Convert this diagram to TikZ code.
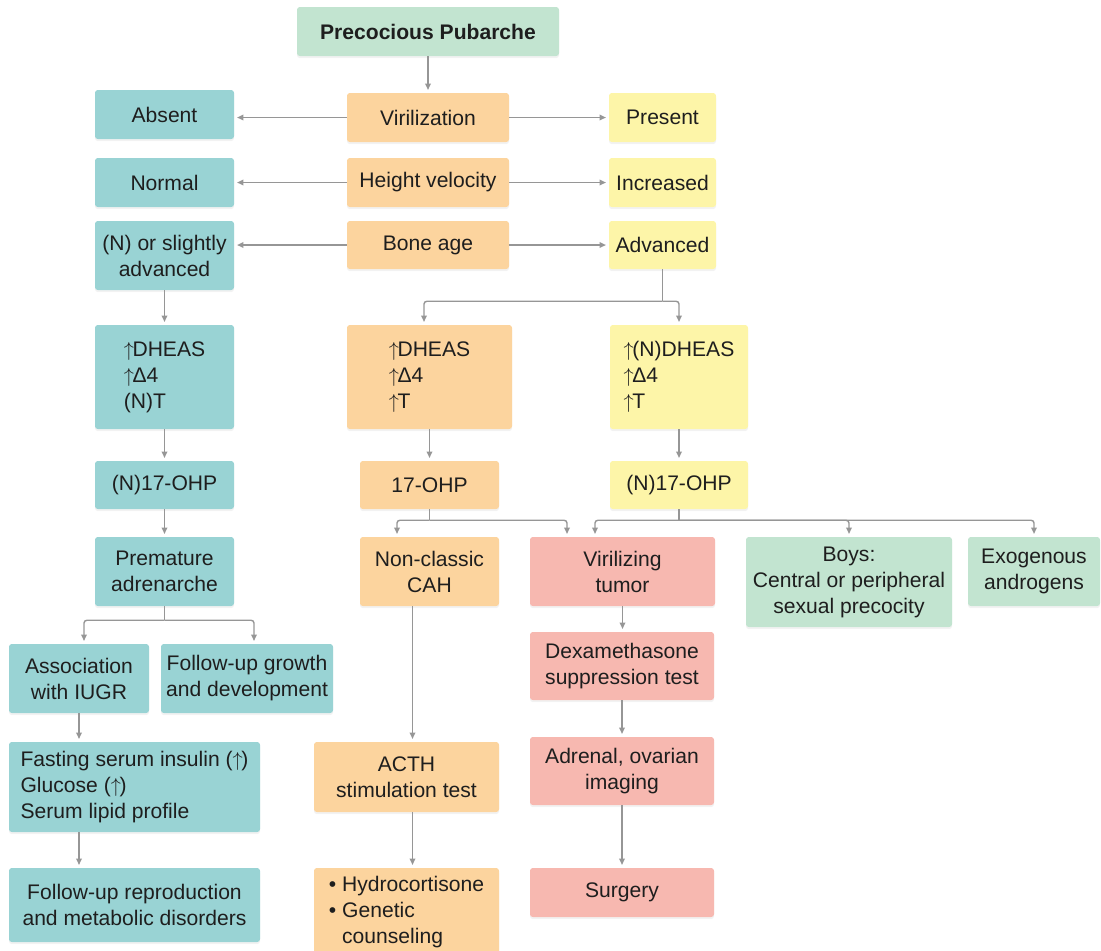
\documentclass[tikz,border=0pt]{standalone}
\usepackage{fontspec}
\setmainfont{Liberation Sans}
\usetikzlibrary{arrows.meta, calc, shadows}
\definecolor{pp-teal}{RGB}{153,211,212}
\definecolor{pp-orange}{RGB}{252,212,158}
\definecolor{pp-yellow}{RGB}{253,245,168}
\definecolor{pp-pink}{RGB}{247,184,176}
\definecolor{pp-mint}{RGB}{194,228,208}
\definecolor{pp-line}{RGB}{150,150,150}
\definecolor{pp-text}{RGB}{30,30,30}
\newcommand{\upar}{$\uparrow$\kern-1pt}
\tikzset{
  box/.style 2 args={rectangle, rounded corners=2pt, minimum width=#1*0.025cm, minimum height=#2*0.025cm,
    drop shadow={opacity=0.10, shadow xshift=0pt, shadow yshift=-1.5pt}},
}

\begin{document}
\begin{tikzpicture}[
  x=0.025cm, y=-0.025cm,
  every node/.style={font=\fontsize{15}{18.5}\selectfont, text=pp-text, align=center, inner sep=2pt},
  teal/.style={fill=pp-teal},
  peach/.style={fill=pp-orange},
  lemon/.style={fill=pp-yellow},
  salmon/.style={fill=pp-pink},
  mint/.style={fill=pp-mint},
  link/.style={draw=pp-line, line width=1pt, rounded corners=2pt},
  arr/.style={link, -{Triangle[length=4.5pt,width=4pt]}, shorten >=2pt},
]
  \useasboundingbox (0,0) rectangle (1101,950);

  \node[box={262}{49}, mint, font=\fontsize{15}{18.5}\selectfont\bfseries] (pubarche) at (428,31.5) {Precocious Pubarche};

  \node[box={162}{49}, peach] (viril) at (428,117.5) {Virilization};
  \node[box={162}{49}, peach] (hvel) at (428,182.5) {Height velocity};
  \node[box={162}{48}, peach] (boneage) at (428,245) {Bone age};

  \node[box={139}{49}, teal] (absent) at (164.5,114.5) {Absent};
  \node[box={139}{49}, teal] (normal) at (164.5,182.5) {Normal};
  \node[box={139}{69}, teal] (slight) at (164.5,255.5) {(N) or slightly\\advanced};

  \node[box={107}{49}, lemon] (present) at (662.5,117.5) {Present};
  \node[box={107}{49}, lemon] (increased) at (662.5,182.5) {Increased};
  \node[box={107}{48}, lemon] (advanced) at (662.5,245) {Advanced};

  \node[box={139}{104}, teal, align=left] (dheasL) at (164.5,377) {\upar DHEAS\\\upar Δ4\\(N)T};
  \node[box={165}{104}, peach, align=left] (dheasM) at (429.5,377) {\upar DHEAS\\\upar Δ4\\\upar T};
  \node[box={138}{104}, lemon, align=left] (dheasR) at (679,377) {\upar(N)DHEAS\\\upar Δ4\\\upar T};

  \node[box={139}{48}, teal] (ohpL) at (164.5,485) {(N)17-OHP};
  \node[box={139}{48}, peach] (ohpM) at (429.5,485) {17-OHP};
  \node[box={138}{48}, lemon] (ohpR) at (679,485) {(N)17-OHP};

  \node[box={139}{69}, teal] (premature) at (164.5,571.5) {Premature\\adrenarche};
  \node[box={139}{69}, peach] (nccah) at (429.5,571.5) {Non-classic\\CAH};
  \node[box={185}{69}, salmon] (tumor) at (622.5,571.5) {Virilizing\\tumor};
  \node[box={206}{90}, mint] (boys) at (849,582) {Boys:\\Central or peripheral\\sexual precocity};
  \node[box={132}{69}, mint] (exogen) at (1034,571.5) {Exogenous\\androgens};

  \node[box={140}{69}, teal] (iugr) at (79,678.5) {Association\\with IUGR};
  \node[box={172}{69}, teal] (growth) at (247,678.5) {Follow-up growth\\and development};
  \node[box={251}{90}, teal, align=left] (fasting) at (134.5,787) {Fasting serum insulin (\upar)\\Glucose (\upar)\\Serum lipid profile};
  \node[box={251}{74}, teal] (repro) at (134.5,905) {Follow-up reproduction\\and metabolic disorders};

  \node[box={185}{70}, peach] (acth) at (406.5,777) {ACTH\\stimulation test};
  \node[box={185}{88}, peach, align=left] (hydro) at (406.5,912) {• Hydrocortisone\\• Genetic\\\phantom{• }counseling};

  \node[box={184}{68}, salmon] (dexa) at (622,666) {Dexamethasone\\suppression test};
  \node[box={184}{68}, salmon] (imaging) at (622,771) {Adrenal, ovarian\\imaging};
  \node[box={184}{49}, salmon] (surgery) at (622,892.5) {Surgery};

  \draw[arr] (pubarche) -- (viril);
  \draw[arr] (viril) -- (viril -| absent.east);
  \draw[arr] (viril) -- (viril -| present.west);
  \draw[arr] (hvel) -- (hvel -| normal.east);
  \draw[arr] (hvel) -- (hvel -| increased.west);
  \draw[arr] (boneage) -- (boneage -| slight.east);
  \draw[arr] (boneage) -- (boneage -| advanced.west);

  \coordinate (splitA) at ($(advanced.south)+(0,32)$);
  \draw[link] (advanced.south) -- (splitA);
  \draw[arr] (splitA) -| ($(dheasM.north)+(-5.5,0)$);
  \draw[arr] (splitA) -| (dheasR.north);

  \draw[arr] (slight) -- (dheasL);
  \draw[arr] (dheasL) -- (ohpL);
  \draw[arr] (ohpL) -- (premature);
  \draw[arr] (dheasM.south -| ohpM) -- (ohpM);
  \draw[arr] (dheasR) -- (ohpR);

  \coordinate (splitM) at ($(ohpM.south)+(0,11)$);
  \draw[link] (ohpM.south) -- (splitM);
  \draw[arr] (splitM) -| ($(nccah.north)+(-32.5,0)$);
  \draw[arr] (splitM) -| ($(tumor.north)+(-55.5,0)$);

  \coordinate (splitR) at ($(ohpR.south)+(0,11)$);
  \draw[link] (ohpR.south) -- (splitR);
  \draw[arr] (splitR) -| ($(tumor.north)+(-27.5,0)$);
  \draw[arr] (splitR) -| (boys.north);
  \draw[arr] (splitR) -| (exogen.north);

  \coordinate (splitP) at ($(premature.south)+(0,14)$);
  \draw[link] (premature.south) -- (splitP);
  \draw[arr] (splitP) -| ($(iugr.north)+(5,0)$);
  \draw[arr] (splitP) -| ($(growth.north)+(7,0)$);

  \draw[arr] (iugr) -- (iugr.south |- fasting.north);
  \draw[arr] (fasting.south -| iugr) -- (repro.north -| iugr);

  \draw[arr] ($(nccah.south)+(-17,0)$) -- ($(acth.north)+(6,0)$);
  \draw[arr] ($(acth.south)+(6,0)$) -- ($(hydro.north)+(6,0)$);

  \draw[arr] (tumor) -- (tumor.south |- dexa.north);
  \draw[arr] (dexa) -- (imaging);
  \draw[arr] (imaging) -- (surgery);
\end{tikzpicture}
\end{document}
